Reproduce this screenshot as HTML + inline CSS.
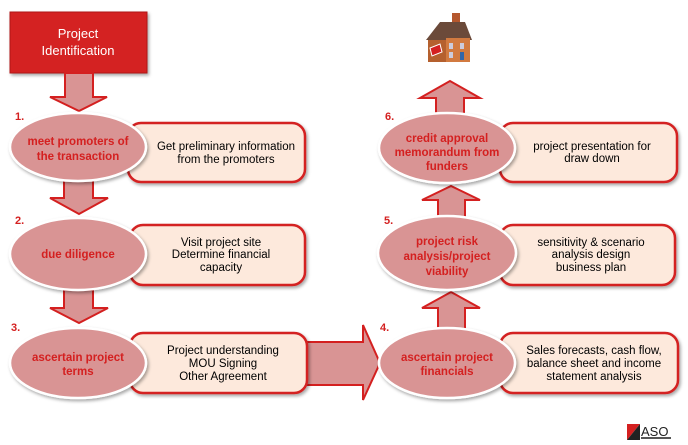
<!DOCTYPE html>
<html><head><meta charset="utf-8"><style>
body{margin:0;background:#fff;}
svg{display:block;font-family:"Liberation Sans",Arial,sans-serif;}
.ar{fill:#d99494;stroke:#d42020;stroke-width:2;stroke-linejoin:miter}
.el{fill:#d99494;stroke:#fff;stroke-width:2.5}
.bx{fill:#fde9dc;stroke:#d42020;stroke-width:2.5}
.et{fill:#d42020;font-size:11.5px;font-weight:bold;text-anchor:middle}
.bt{fill:#000;font-size:11.5px;text-anchor:middle}
.n{fill:#d42020;font-size:11px;font-weight:bold}
</style></head><body>
<svg width="688" height="445" viewBox="0 0 688 445">
<defs><filter id="sh" x="-20%" y="-20%" width="140%" height="150%"><feDropShadow dx="1.5" dy="2" stdDeviation="1.5" flood-color="#000" flood-opacity="0.35"/></filter></defs>
<!-- top box -->
<rect x="10" y="12" width="137" height="61" fill="#d42020" stroke="#b01818" stroke-width="1" filter="url(#sh)"/>
<text x="78" y="38" fill="#fff" font-size="13" text-anchor="middle">Project</text>
<text x="78" y="55" fill="#fff" font-size="13" text-anchor="middle">Identification</text>
<!-- down arrows -->
<polygon class="ar" points="65,73 93,73 93,97 107,97 79,111 50,97 65,97"/>
<polygon class="ar" points="64,180 93,180 93,198 108,198 79,214 50,198 64,198"/>
<polygon class="ar" points="64,290 93,290 93,308 108,308 79,323 50,308 64,308"/>
<!-- right arrow -->
<polygon class="ar" points="300,342 363,342 363,325 380,363 363,400 363,385 300,385"/>
<!-- up arrows -->
<polygon class="ar" points="438,330 465,330 465,308 480,308 451,292 422,308 438,308"/>
<polygon class="ar" points="438,220 465,220 465,200 480,200 451,186 422,200 438,200"/>
<polygon class="ar" points="436,115 464,115 464,98 480,98 450,81 420,98 436,98"/>
<!-- boxes -->
<rect class="bx" x="128" y="123" width="177" height="59" rx="13" filter="url(#sh)"/>
<rect class="bx" x="130" y="225" width="175" height="60" rx="13" filter="url(#sh)"/>
<rect class="bx" x="130" y="333" width="177" height="60" rx="13" filter="url(#sh)"/>
<rect class="bx" x="500" y="333" width="178" height="60" rx="13" filter="url(#sh)"/>
<rect class="bx" x="500" y="225" width="175" height="60" rx="13" filter="url(#sh)"/>
<rect class="bx" x="500" y="123" width="177" height="59" rx="13" filter="url(#sh)"/>
<!-- ellipses -->
<ellipse class="el" cx="78" cy="147" rx="68" ry="34" filter="url(#sh)"/>
<ellipse class="el" cx="78" cy="254" rx="68" ry="36" filter="url(#sh)"/>
<ellipse class="el" cx="78" cy="363" rx="68" ry="35" filter="url(#sh)"/>
<ellipse class="el" cx="447" cy="363" rx="68" ry="35" filter="url(#sh)"/>
<ellipse class="el" cx="447" cy="253" rx="69" ry="37" filter="url(#sh)"/>
<ellipse class="el" cx="447" cy="148" rx="68" ry="35" filter="url(#sh)"/>
<!-- numbers -->
<text class="n" x="15" y="120">1.</text>
<text class="n" x="15" y="224">2.</text>
<text class="n" x="11" y="331">3.</text>
<text class="n" x="380" y="331">4.</text>
<text class="n" x="384" y="224">5.</text>
<text class="n" x="385" y="120">6.</text>
<!-- ellipse text -->
<text class="et" x="78" y="145">meet promoters of</text>
<text class="et" x="78" y="160">the transaction</text>
<text class="et" x="78" y="258">due diligence</text>
<text class="et" x="78" y="361">ascertain project</text>
<text class="et" x="78" y="375">terms</text>
<text class="et" x="447" y="361">ascertain project</text>
<text class="et" x="447" y="375">financials</text>
<text class="et" x="447" y="245">project risk</text>
<text class="et" x="447" y="260">analysis/project</text>
<text class="et" x="447" y="275">viability</text>
<text class="et" x="447" y="142">credit approval</text>
<text class="et" x="447" y="156">memorandum from</text>
<text class="et" x="447" y="170">funders</text>
<!-- box text -->
<text class="bt" x="226" y="150">Get preliminary information</text>
<text class="bt" x="226" y="163">from the promoters</text>
<text class="bt" x="221" y="246">Visit project site</text>
<text class="bt" x="221" y="258">Determine financial</text>
<text class="bt" x="221" y="271">capacity</text>
<text class="bt" x="223" y="354">Project understanding</text>
<text class="bt" x="223" y="367">MOU Signing</text>
<text class="bt" x="223" y="380">Other Agreement</text>
<text class="bt" x="594" y="354">Sales forecasts, cash flow,</text>
<text class="bt" x="594" y="367">balance sheet and income</text>
<text class="bt" x="594" y="380">statement analysis</text>
<text class="bt" x="591" y="246">sensitivity &amp; scenario</text>
<text class="bt" x="591" y="258">analysis design</text>
<text class="bt" x="591" y="271">business plan</text>
<text class="bt" x="592" y="150">project presentation for</text>
<text class="bt" x="592" y="162">draw down</text>
<!-- house -->
<g>
<rect x="452" y="13" width="8" height="10" fill="#b5582e"/>
<polygon points="426,40 440,22 465,22 472,40" fill="#6b4a3a"/>
<rect x="428" y="40" width="18" height="22" fill="#b5602e"/>
<rect x="446" y="38" width="24" height="24" fill="#d27a40"/>
<polygon points="430,48 440,44 442,52 432,56" fill="#d42020" stroke="#fff" stroke-width="1"/>
<rect x="449" y="43" width="4" height="6" fill="#ccd"/><rect x="460" y="43" width="4" height="6" fill="#ccd"/>
<rect x="449" y="52" width="4" height="6" fill="#ccd"/><rect x="460" y="52" width="4" height="8" fill="#36a"/>
</g>
<!-- logo -->
<polygon points="627,424 640,424 627,440" fill="#d42020"/>
<polygon points="640,424 640,440 627,440" fill="#222"/>
<text x="641" y="436" font-size="13" fill="#222">ASO</text>
<rect x="641" y="437" width="30" height="2" fill="#555"/>
</svg>
</body></html>
